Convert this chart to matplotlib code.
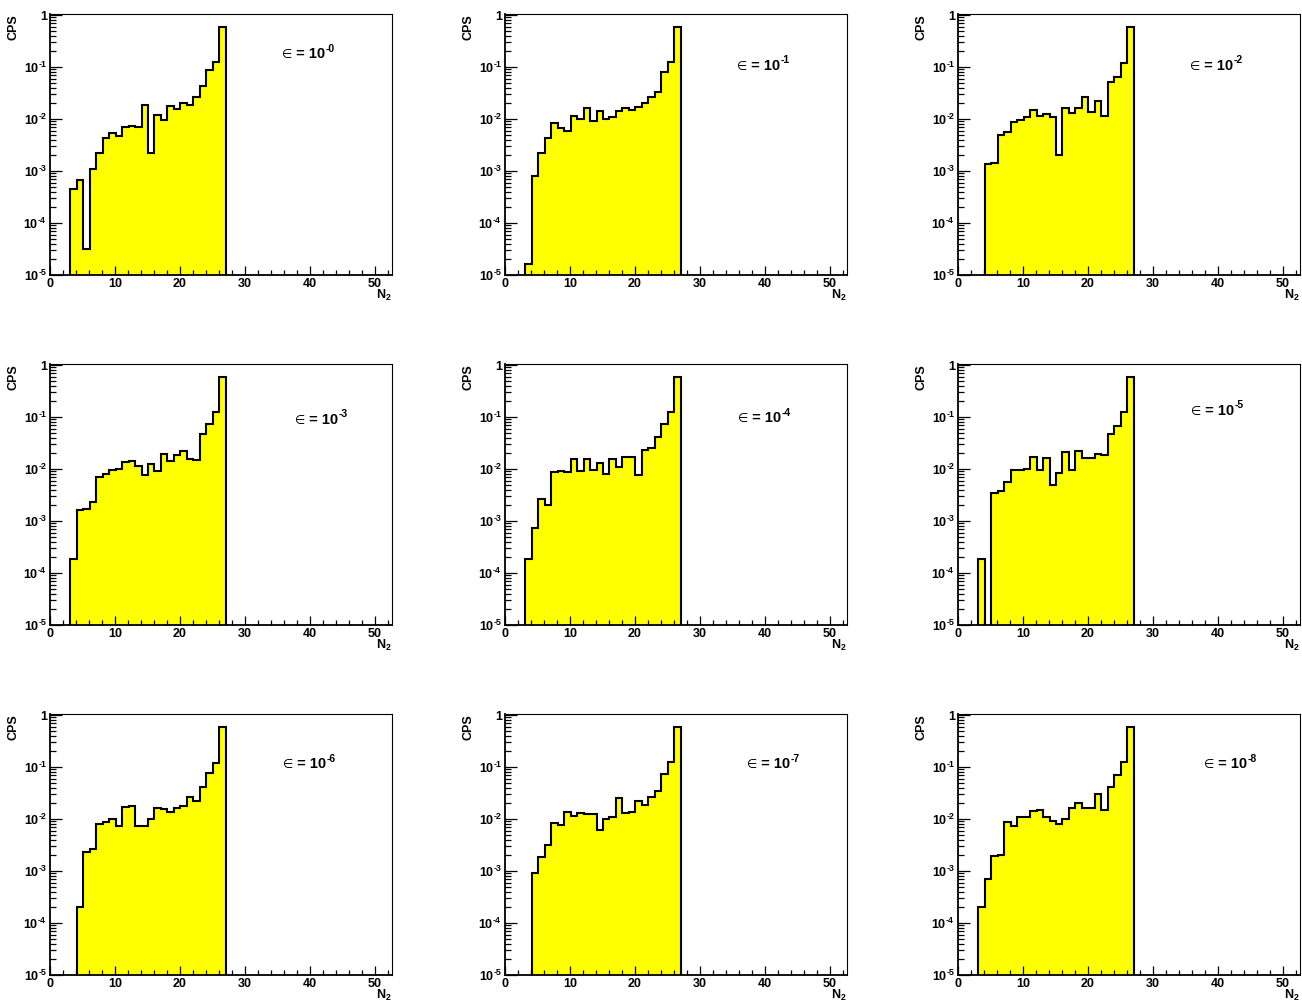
#Importing necessary modules
import numpy as np
import matplotlib
matplotlib.use("Agg")
import matplotlib.pyplot as plt
from matplotlib.ticker import FixedLocator, FuncFormatter, LogLocator, NullFormatter

#bin edges of N2 (24 bins, first bin starts at about 3)
n2_edges = np.linspace(3.15, 27.0, 25)

#CPS per bin for every epsilon (bins 3..26), 0 = empty bin
cps_eps0 = [4.5e-4, 6.8e-4, 3.2e-5, 1.1e-3, 2.2e-3, 4.3e-3, 5.4e-3, 4.8e-3, 6.9e-3, 7.4e-3, 6.9e-3, 1.86e-2,
            2.2e-3, 1.2e-2, 9.6e-3, 1.8e-2, 1.56e-2, 2.0e-2, 1.9e-2, 2.6e-2, 4.4e-2, 8.8e-2, 0.125, 0.58]
cps_eps1 = [1.6e-5, 8.2e-4, 2.2e-3, 4.3e-3, 8.5e-3, 6.6e-3, 5.8e-3, 1.13e-2, 1.0e-2, 1.6e-2, 9.3e-3, 1.4e-2,
            1.0e-2, 1.08e-2, 1.44e-2, 1.6e-2, 1.5e-2, 1.7e-2, 2.0e-2, 2.6e-2, 3.3e-2, 8.2e-2, 0.123, 0.58]
cps_eps2 = [0, 1.35e-3, 1.44e-3, 5.0e-3, 5.7e-3, 8.7e-3, 9.6e-3, 1.12e-2, 1.5e-2, 1.15e-2, 1.27e-2, 1.12e-2,
            2.0e-3, 1.63e-2, 1.33e-2, 1.66e-2, 2.7e-2, 1.38e-2, 2.25e-2, 1.15e-2, 5.2e-2, 6.5e-2, 0.12, 0.58]
cps_eps3 = [1.9e-4, 1.65e-3, 1.7e-3, 2.3e-3, 7.1e-3, 8.1e-3, 9.6e-3, 1.0e-2, 1.39e-2, 1.45e-2, 1.17e-2, 7.7e-3,
            1.24e-2, 9.1e-3, 1.95e-2, 1.41e-2, 1.86e-2, 2.25e-2, 1.59e-2, 1.48e-2, 4.7e-2, 7.4e-2, 0.123, 0.58]
cps_eps4 = [1.9e-4, 7.2e-4, 2.6e-3, 2.0e-3, 8.8e-3, 9.3e-3, 8.8e-3, 1.54e-2, 9.1e-3, 1.54e-2, 9.6e-3, 1.33e-2,
            8.2e-3, 1.56e-2, 1.12e-2, 1.7e-2, 1.73e-2, 7.6e-3, 2.3e-2, 2.5e-2, 4.2e-2, 7.4e-2, 0.123, 0.58]
cps_eps5 = [1.9e-4, 0, 3.5e-3, 3.8e-3, 5.7e-3, 9.6e-3, 9.6e-3, 1.02e-2, 1.73e-2, 9.6e-3, 1.66e-2, 5.0e-3,
            8.3e-3, 2.1e-2, 9.6e-3, 2.2e-2, 1.6e-2, 1.6e-2, 1.95e-2, 1.86e-2, 4.7e-2, 6.6e-2, 0.123, 0.58]
cps_eps6 = [0, 2.0e-4, 2.3e-3, 2.6e-3, 7.9e-3, 8.8e-3, 1.0e-2, 7.4e-3, 1.7e-2, 1.8e-2, 7.4e-3, 7.4e-3,
            1.0e-2, 1.6e-2, 1.56e-2, 1.37e-2, 1.63e-2, 1.8e-2, 2.7e-2, 2.2e-2, 4.1e-2, 7.6e-2, 0.12, 0.58]
cps_eps7 = [0, 9.1e-4, 1.9e-3, 3.2e-3, 8.5e-3, 7.7e-3, 1.37e-2, 1.15e-2, 1.33e-2, 1.24e-2, 1.27e-2, 6.2e-3,
            1.0e-2, 1.1e-2, 2.5e-2, 1.31e-2, 1.37e-2, 2.25e-2, 1.9e-2, 2.6e-2, 3.4e-2, 7.4e-2, 0.127, 0.6]
cps_eps8 = [2.0e-4, 7.1e-4, 1.96e-3, 2.05e-3, 8.7e-3, 7.5e-3, 1.08e-2, 1.08e-2, 1.44e-2, 1.5e-2, 1.08e-2, 9.3e-3,
            8.2e-3, 1.0e-2, 1.6e-2, 2.05e-2, 1.6e-2, 1.6e-2, 3.1e-2, 1.48e-2, 4.2e-2, 7.0e-2, 0.127, 0.6]

all_cps = [cps_eps0, cps_eps1, cps_eps2, cps_eps3, cps_eps4, cps_eps5, cps_eps6, cps_eps7, cps_eps8]
eps_labels = ["-0", "-1", "-2", "-3", "-4", "-5", "-6", "-7", "-8"]
#where the epsilon text sits (axes fraction)
label_pos = [(0.678, 0.843), (0.678, 0.80), (0.678, 0.80),
             (0.717, 0.783), (0.681, 0.79), (0.681, 0.818),
             (0.681, 0.805), (0.707, 0.805), (0.72, 0.805)]

#fonts
plt.rcParams["font.family"] = ["Liberation Sans", "DejaVu Sans"]
plt.rcParams["font.weight"] = "bold"
plt.rcParams["mathtext.fontset"] = "custom"
plt.rcParams["mathtext.rm"] = "Liberation Sans:bold"
plt.rcParams["mathtext.it"] = "Liberation Sans:bold"
plt.rcParams["mathtext.bf"] = "Liberation Sans:bold"

fig = plt.figure(figsize=(13.02, 10.01), dpi=100)

#axes layout in pixels
col_left = [50, 505, 958]
row_top = [14, 364, 714]
ax_w = 342
ax_h = 261

def ytick_fmt(v, pos):
    e = int(round(np.log10(v)))
    if e == 0:
        return "1"
    return r"$10^{\text{%d}}$" % e

for i in range(9):
    r = i // 3
    c = i % 3
    ax = fig.add_axes([col_left[c] / 1302, 1 - (row_top[r] + ax_h) / 1001, ax_w / 1302, ax_h / 1001])
    vals = np.maximum(np.array(all_cps[i], dtype=float), 1e-7)

    ax.set_yscale("log")
    ax.stairs(vals, n2_edges, baseline=1e-7, fill=True, color="#ffff00", linewidth=0)
    ax.stairs(vals, n2_edges, baseline=1e-7, fill=False, color="black", linewidth=1.5)

    ax.set_xlim(0, 52.6)
    ax.set_ylim(1e-5, 1.05)

    #ticks
    ax.xaxis.set_major_locator(FixedLocator([0, 10, 20, 30, 40, 50]))
    ax.xaxis.set_minor_locator(FixedLocator(np.arange(0, 53, 2)))
    ax.yaxis.set_major_locator(LogLocator(base=10, numticks=10))
    ax.yaxis.set_minor_locator(LogLocator(base=10, subs=np.arange(2, 10), numticks=10))
    ax.yaxis.set_major_formatter(FuncFormatter(ytick_fmt))
    ax.yaxis.set_minor_formatter(NullFormatter())
    ax.tick_params(axis="both", which="both", direction="in", top=False, right=False, labelsize=9)
    ax.tick_params(axis="y", which="major", length=8.5, width=0.9, pad=2)
    ax.tick_params(axis="y", which="minor", length=4.3, width=0.9)
    ax.tick_params(axis="x", which="major", length=6.5, width=0.9, pad=2)
    ax.tick_params(axis="x", which="minor", length=3.5, width=0.9)
    ax.spines["left"].set_linewidth(1.3)
    ax.spines["bottom"].set_linewidth(1.3)
    ax.spines["top"].set_linewidth(0.8)
    ax.spines["right"].set_linewidth(0.8)

    ax.set_ylabel("CPS", fontsize=9, fontweight="bold", loc="top")
    ax.yaxis.set_label_coords(-0.088, 1.0)
    ax.set_xlabel("N$_2$", fontsize=9, fontweight="bold", loc="right")
    ax.xaxis.set_label_coords(1.0, -0.048)

    #epsilon label: thin symbol, bold value, small superscript
    tx, ty = label_pos[i]
    t1 = ax.text(tx, ty, "\u2208", transform=ax.transAxes, fontsize=8.5, fontweight="normal",
                 family="DejaVu Sans", va="center", ha="left")
    t2 = ax.annotate(" = 10", xy=(1, 0), xycoords=t1, va="bottom", ha="left",
                     fontsize=10.5, fontweight="bold")
    ax.annotate(eps_labels[i], xy=(1, 0.55), xycoords=t2, va="bottom", ha="left",
                fontsize=7.5, fontweight="bold")

fig.savefig("out.png", dpi=100)
